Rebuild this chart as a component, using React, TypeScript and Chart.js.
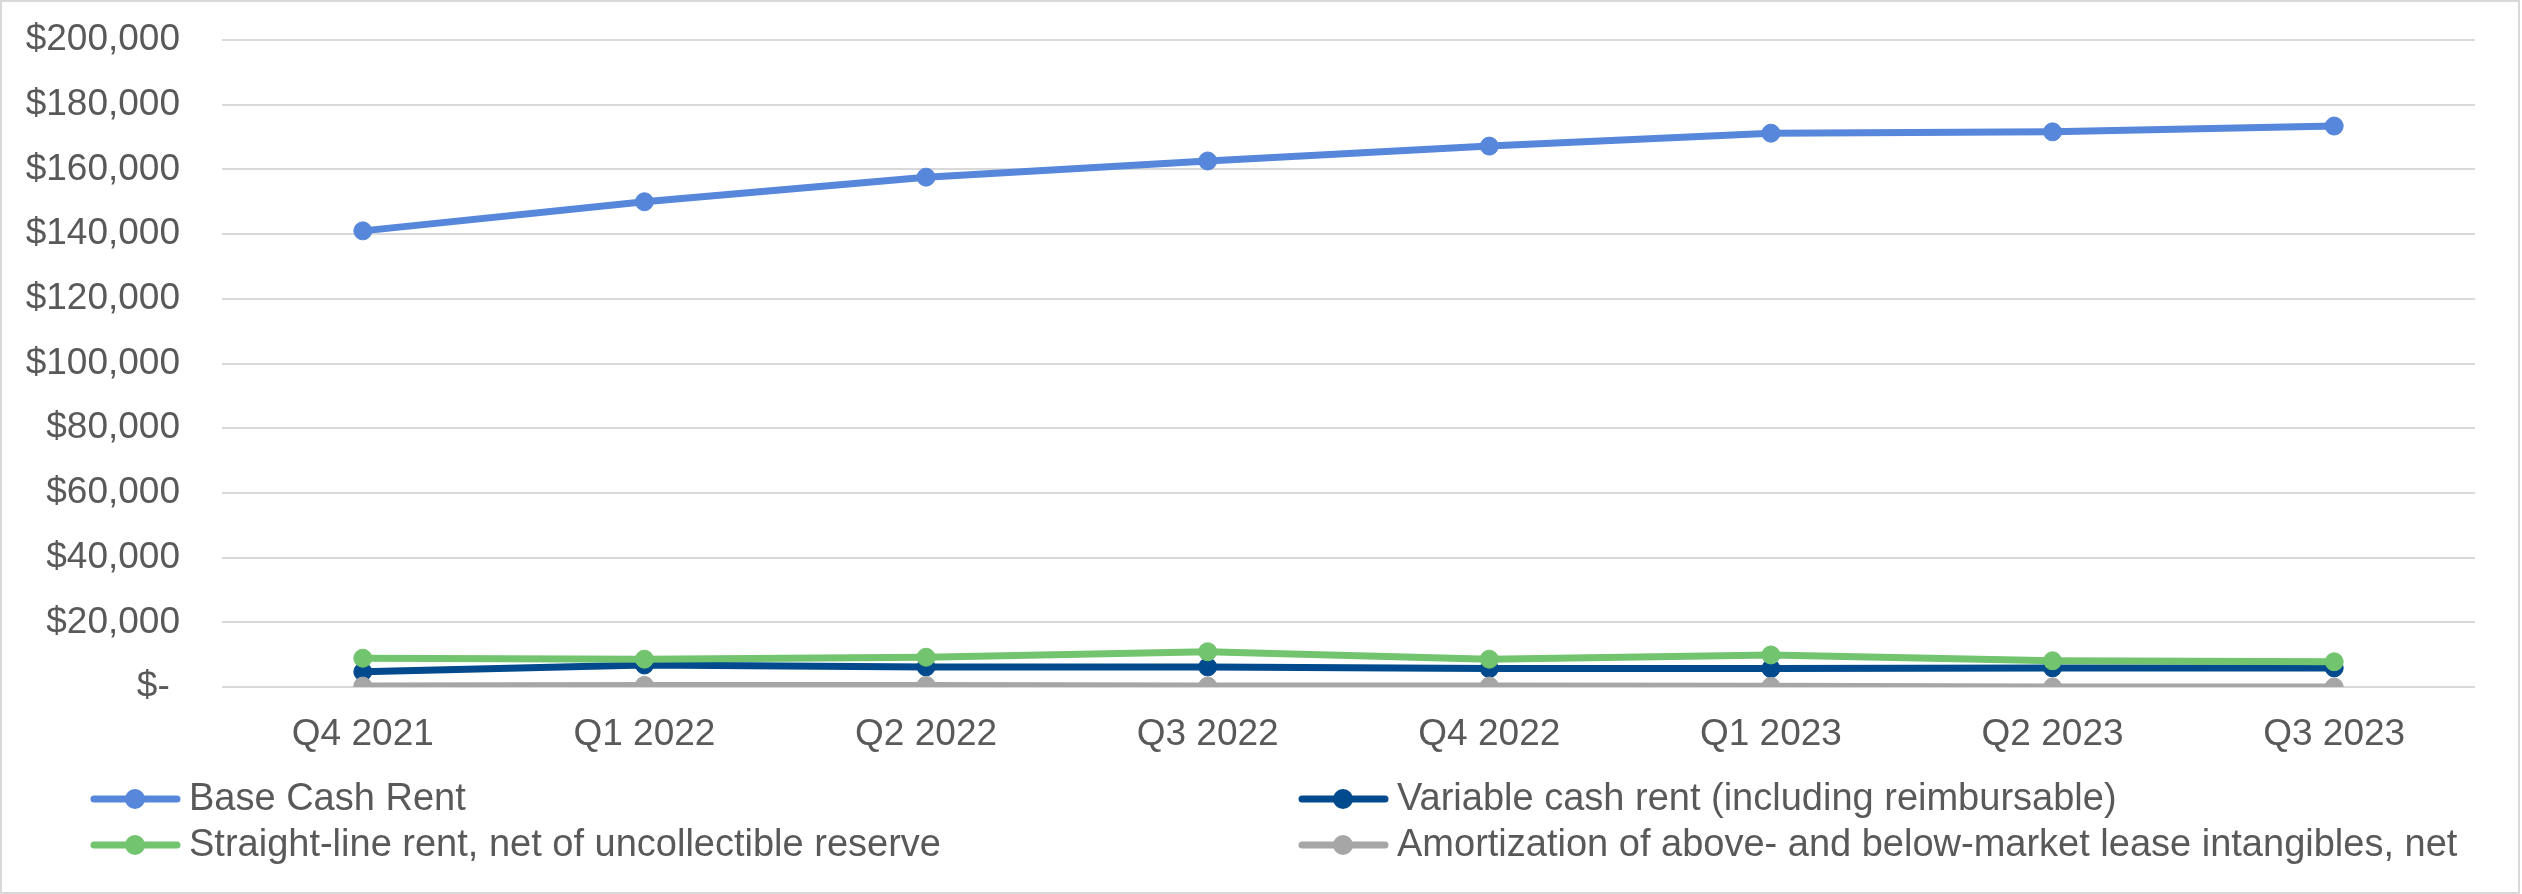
import { useEffect, useRef } from "react";
import { Chart, registerables } from "chart.js";

Chart.register(...registerables);

const categories = ["Q4 2021", "Q1 2022", "Q2 2022", "Q3 2022", "Q4 2022", "Q1 2023", "Q2 2023", "Q3 2023"];
const baseCashRent = [141000, 150000, 157600, 162600, 167200, 171200, 171600, 173400];
const variableCashRent = [4700, 6800, 6200, 6200, 5700, 5700, 5900, 5900];
const straightLineRent = [8900, 8600, 9200, 10900, 8600, 9900, 8100, 7800];
const amortization = [300, 500, 500, 300, 300, 200, 0, 0];
const seriesLabels = [
  "Base Cash Rent",
  "Variable cash rent (including reimbursable)",
  "Straight-line rent, net of uncollectible reserve",
  "Amortization of above- and below-market lease intangibles, net",
];
const seriesColors = ["#5687DA", "#004A8D", "#72C46E", "#A6A6A6"];
const yMin = 0;
const yMax = 200000;
const yStep = 20000;

const FONT = '"Liberation Sans", Arial, sans-serif';
const TEXT = "#595959";

const frameLegendPlugin = {
  id: "frameLegend",
  beforeDraw(chart: any) {
    const ctx = chart.ctx;
    ctx.save();
    ctx.fillStyle = "#ffffff";
    ctx.fillRect(0, 0, chart.width, chart.height);
    ctx.restore();
  },
  afterDraw(chart: any) {
    const ctx = chart.ctx;
    ctx.save();
    ctx.strokeStyle = "#d9d9d9";
    ctx.lineWidth = 2;
    ctx.strokeRect(1, 1, chart.width - 4, chart.height - 2);
    const cols = [91, 1299];
    const rows = [799, 845];
    chart.data.datasets.forEach((d: any, i: number) => {
      const x = cols[i % 2];
      const y = rows[Math.floor(i / 2)];
      ctx.strokeStyle = d.borderColor;
      ctx.lineWidth = 7;
      ctx.lineCap = "round";
      ctx.beginPath();
      ctx.moveTo(x + 3, y);
      ctx.lineTo(x + 86, y);
      ctx.stroke();
      ctx.fillStyle = d.borderColor;
      ctx.beginPath();
      ctx.arc(x + 44, y, 10, 0, Math.PI * 2);
      ctx.fill();
      ctx.fillStyle = TEXT;
      ctx.font = `38px ${FONT}`;
      ctx.textBaseline = "middle";
      ctx.textAlign = "left";
      ctx.fillText(d.label, x + 98, y + 1);
    });
    ctx.restore();
  },
};

export default function App() {
  const ref = useRef<HTMLCanvasElement>(null);
  useEffect(() => {
    const series = [baseCashRent, variableCashRent, straightLineRent, amortization];
    const chart = new Chart(ref.current as HTMLCanvasElement, {
      type: "line",
      data: {
        labels: categories,
        datasets: series.map((s, i) => ({
          label: seriesLabels[i],
          data: s,
          borderColor: seriesColors[i],
          backgroundColor: seriesColors[i],
          pointBackgroundColor: seriesColors[i],
          pointBorderColor: seriesColors[i],
          borderWidth: 7,
          pointRadius: 9,
          pointBorderWidth: 1,
          borderCapStyle: "round",
          borderJoinStyle: "round",
          tension: 0,
          order: 3 - i,
        })),
      },
      options: {
        responsive: false,
        maintainAspectRatio: false,
        animation: false,
        devicePixelRatio: 1,
        layout: { padding: { top: 40, right: 47, left: 0, bottom: 0 } },
        plugins: { legend: { display: false }, tooltip: { enabled: false } },
        scales: {
          x: {
            offset: true,
            afterFit: (s: any) => {
              s.height = 894 - 687;
              s.paddingLeft = 0;
              s.paddingRight = 0;
            },
            grid: { display: false, drawTicks: false },
            border: { display: false },
            ticks: { padding: 26, color: TEXT, font: { family: FONT, size: 37 }, maxRotation: 0, autoSkip: false },
          },
          y: {
            min: yMin,
            max: yMax,
            afterFit: (s: any) => {
              s.width = 222;
              s.paddingTop = 0;
              s.paddingBottom = 0;
            },
            grid: { color: "#d9d9d9", lineWidth: 2, drawTicks: false },
            border: { display: false },
            ticks: {
              stepSize: yStep,
              padding: 42,
              color: TEXT,
              font: { family: FONT, size: 37 },
              callback: (v: any) => (Number(v) === 0 ? "$- " : "$" + Number(v).toLocaleString("en-US")),
            },
          },
        },
      },
      plugins: [frameLegendPlugin],
    });
    return () => chart.destroy();
  }, []);
  return (
    <div style={{ position: "fixed", left: 0, top: 0, width: 2522, height: 894 }}>
      <canvas ref={ref} width={2522} height={894} style={{ display: "block" }} />
    </div>
  );
}
